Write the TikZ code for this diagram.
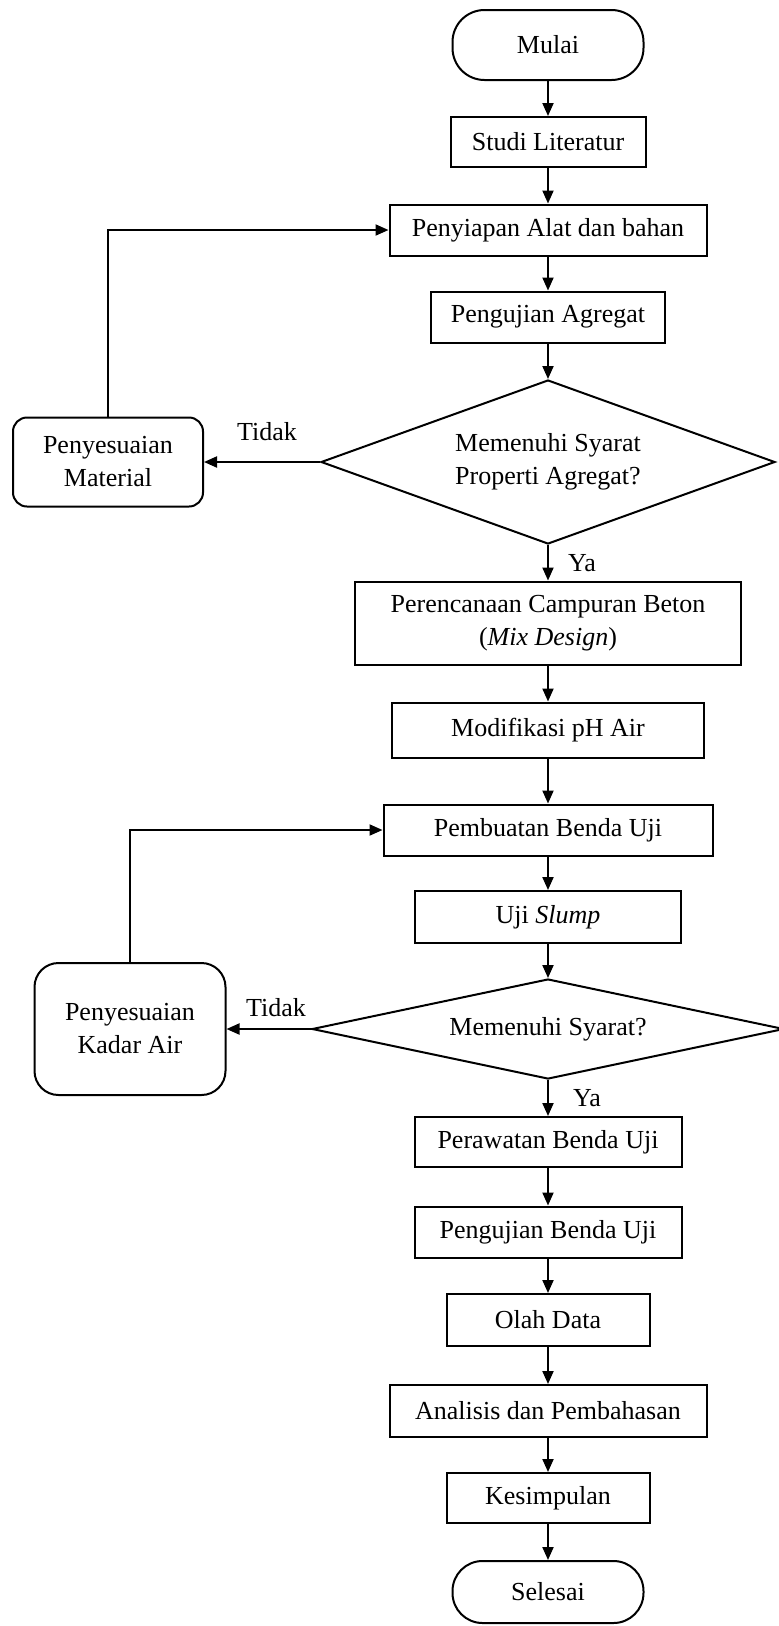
\documentclass[tikz,border=0pt]{standalone}
\usepackage{fontspec}
\setmainfont{Liberation Serif}
\usetikzlibrary{shapes.geometric,arrows.meta}
\begin{document}
\begin{tikzpicture}[x=1pt,y=-1pt,
  every node/.style={font=\fontsize{26}{33}\selectfont},
  proc/.style={draw,line width=2pt,inner sep=0pt,align=center},
  term/.style={proc,rounded corners=32pt},
  adj/.style={proc,rounded corners=14pt},
  dec/.style={draw,line width=2pt,diamond,inner sep=0pt,align=center},
  arr/.style={line width=2pt,-{Triangle[length=13pt,width=11pt]}},
  lbl/.style={inner sep=0pt}]
\useasboundingbox (0,0) rectangle (779,1626);

\node[term,minimum width=191pt,minimum height=70pt] (mulai) at (548,45) {Mulai};
\node[proc,minimum width=195pt,minimum height=50pt] (studi) at (548,142) {Studi Literatur};
\node[proc,minimum width=317pt,minimum height=51pt] (siap) at (548,230) {Penyiapan Alat dan bahan};
\node[proc,minimum width=234pt,minimum height=51pt] (agg) at (548,317) {Pengujian Agregat};
\node[dec,aspect=2.77,minimum width=454pt,minimum height=164pt] (d1) at (548,462) {Memenuhi Syarat\\Properti Agregat?};
\node[adj,minimum width=190pt,minimum height=89pt] (pm) at (108,462) {Penyesuaian\\Material};
\node[lbl] (tidak1) at (267,432) {Tidak};
\node[lbl] (ya1) at (582,563) {Ya};
\node[proc,minimum width=386pt,minimum height=83pt] (mix) at (548,623) {Perencanaan Campuran Beton\\(\textit{Mix Design})};
\node[proc,minimum width=312pt,minimum height=55pt] (ph) at (548,730) {Modifikasi pH Air};
\node[proc,minimum width=329pt,minimum height=51pt] (buat) at (548,830) {Pembuatan Benda Uji};
\node[proc,minimum width=266pt,minimum height=52pt] (slump) at (548,917) {Uji \textit{Slump}};
\node[dec,aspect=4.72,minimum width=472pt,minimum height=100pt] (d2) at (548,1029) {Memenuhi Syarat?};
\node[adj,rounded corners=24pt,minimum width=191pt,minimum height=132pt] (ka) at (130,1029) {Penyesuaian\\Kadar Air};
\node[lbl] (tidak2) at (276,1008) {Tidak};
\node[lbl] (ya2) at (587,1098) {Ya};
\node[proc,minimum width=267pt,minimum height=50pt] (rawat) at (548,1142) {Perawatan Benda Uji};
\node[proc,minimum width=267pt,minimum height=51pt] (uji) at (548,1232) {Pengujian Benda Uji};
\node[proc,minimum width=203pt,minimum height=52pt] (olah) at (548,1320) {Olah Data};
\node[proc,minimum width=317pt,minimum height=52pt] (anal) at (548,1411) {Analisis dan Pembahasan};
\node[proc,minimum width=203pt,minimum height=50pt] (kes) at (548,1498) {Kesimpulan};
\node[term,rounded corners=30pt,minimum width=191pt,minimum height=62pt] (selesai) at (548,1592) {Selesai};

\draw[arr] (mulai) -- (studi);
\draw[arr] (studi) -- (siap);
\draw[arr] (siap) -- (agg);
\draw[arr] (agg) -- (d1);
\draw[arr] (d1.west) -- (pm.east);
\draw[arr] (pm.north) |- (siap.west);
\draw[arr] (d1.south) -- (mix.north);
\draw[arr] (mix) -- (ph);
\draw[arr] (ph) -- (buat);
\draw[arr] (buat) -- (slump);
\draw[arr] (slump) -- (d2);
\draw[arr] (d2.west) -- (ka.east);
\draw[arr] (ka.north) |- (buat.west);
\draw[arr] (d2.south) -- (rawat.north);
\draw[arr] (rawat) -- (uji);
\draw[arr] (uji) -- (olah);
\draw[arr] (olah) -- (anal);
\draw[arr] (anal) -- (kes);
\draw[arr] (kes) -- (selesai);
\end{tikzpicture}
\end{document}
